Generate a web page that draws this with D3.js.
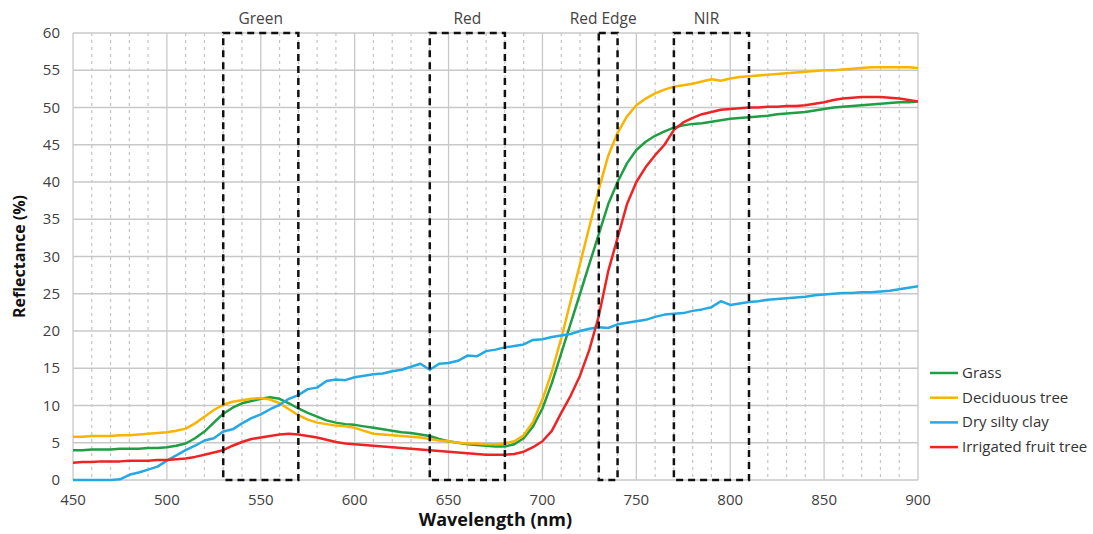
<!doctype html>
<html>
<head>
<meta charset="utf-8">
<title>Reflectance spectra</title>
<script src="https://d3js.org/d3.v7.min.js"></script>
<style>
body { margin: 0; background: #fff; font-family: 'Open Sans', sans-serif; }
.tick-label { font-size: 15px; fill: #404040; }
</style>
</head>
<body>
<div id="chart"></div>
<script>

// wavelength (nm), one value every 5 nm
var wavelengths = [450,455,460,465,470,475,480,485,490,495,500,505,510,515,520,525,530,535,540,545,550,555,560,565,570,575,580,585,590,595,600,605,610,615,620,625,630,635,640,645,650,655,660,665,670,675,680,685,690,695,700,705,710,715,720,725,730,735,740,745,750,755,760,765,770,775,780,785,790,795,800,805,810,815,820,825,830,835,840,845,850,855,860,865,870,875,880,885,890,895,900];

var grass = [4.0,4.0,4.1,4.1,4.1,4.2,4.2,4.2,4.3,4.3,4.4,4.6,4.9,5.6,6.5,7.7,8.9,9.7,10.3,10.6,10.9,11.1,10.9,10.3,9.6,9.0,8.5,8.0,7.7,7.5,7.4,7.2,7.0,6.8,6.6,6.4,6.3,6.1,5.9,5.5,5.2,5.0,4.8,4.7,4.6,4.5,4.5,4.8,5.6,7.2,9.6,13.0,17.0,21.0,25.0,29.0,33.0,37.0,40.0,42.5,44.3,45.4,46.2,46.8,47.3,47.6,47.8,47.9,48.1,48.3,48.5,48.6,48.7,48.8,48.9,49.1,49.2,49.3,49.4,49.6,49.8,50.0,50.1,50.2,50.3,50.4,50.5,50.6,50.7,50.7,50.8];

var deciduous = [5.8,5.8,5.9,5.9,5.9,6.0,6.0,6.1,6.2,6.3,6.4,6.6,6.9,7.6,8.5,9.4,10.1,10.5,10.7,10.9,11.0,10.8,10.3,9.5,8.7,8.1,7.7,7.5,7.3,7.2,7.0,6.6,6.2,6.1,6.0,5.9,5.8,5.7,5.5,5.3,5.2,5.0,4.9,4.9,4.8,4.8,4.9,5.2,6.0,7.8,10.8,14.5,19.0,24.0,29.0,34.0,39.0,43.5,46.6,48.8,50.3,51.2,51.9,52.4,52.8,53.0,53.2,53.5,53.8,53.6,53.9,54.1,54.2,54.3,54.4,54.5,54.6,54.7,54.8,54.9,55.0,55.0,55.1,55.2,55.3,55.4,55.4,55.4,55.4,55.4,55.3];

var silty = [0,0,0,0,0,0.1,0.7,1.0,1.4,1.8,2.6,3.3,4.0,4.6,5.3,5.6,6.5,6.8,7.6,8.3,8.8,9.5,10.1,10.9,11.4,12.2,12.4,13.3,13.5,13.4,13.8,14.0,14.2,14.3,14.6,14.8,15.2,15.6,14.8,15.6,15.7,16.0,16.7,16.6,17.3,17.5,17.8,18.0,18.2,18.8,18.9,19.2,19.4,19.6,20.0,20.3,20.5,20.4,20.9,21.1,21.3,21.5,21.9,22.2,22.3,22.4,22.7,22.9,23.2,24.0,23.5,23.7,23.9,24.0,24.2,24.3,24.4,24.5,24.6,24.8,24.9,25.0,25.1,25.1,25.2,25.2,25.3,25.4,25.6,25.8,26.0];

var fruitTree = [2.3,2.4,2.4,2.5,2.5,2.5,2.6,2.6,2.6,2.7,2.7,2.8,2.9,3.1,3.4,3.7,4.0,4.6,5.1,5.5,5.7,5.9,6.1,6.2,6.1,5.9,5.7,5.4,5.1,4.9,4.8,4.7,4.6,4.5,4.4,4.3,4.2,4.1,4.0,3.9,3.8,3.7,3.6,3.5,3.4,3.4,3.4,3.5,3.8,4.4,5.2,6.6,9.0,11.3,14.0,17.5,22.0,28.0,32.5,37.0,40.0,42.0,43.6,45.0,47.0,48.0,48.6,49.1,49.4,49.7,49.8,49.9,50.0,50.0,50.1,50.1,50.2,50.2,50.3,50.5,50.7,51.0,51.2,51.3,51.4,51.4,51.4,51.3,51.2,51.0,50.8];

var seriesNames = ["Grass", "Deciduous tree", "Dry silty clay", "Irrigated fruit tree"];
var seriesColors = ["#1f9e43", "#f9b400", "#25a8e3", "#ee2424"];
var seriesValues = [grass, deciduous, silty, fruitTree];

// spectral bands (dashed boxes)
var bandNames = ["Green", "Red", "Red Edge", "NIR"];
var bandStart = [530, 640, 730, 770];
var bandEnd   = [570, 680, 740, 810];

var xTicks = [450,500,550,600,650,700,750,800,850,900];
var yTicks = [0,5,10,15,20,25,30,35,40,45,50,55,60];

var width = 1093, height = 534;

var svg = d3.select("#chart").append("svg")
	.attr("width", width)
	.attr("height", height);

var x = d3.scaleLinear().domain([450, 900]).range([73, 918]);
var y = d3.scaleLinear().domain([0, 60]).range([480, 33]);

// minor dotted verticals every 10 nm
var minor = d3.range(460, 900, 10).filter(function(d){ return d % 50 != 0; });
svg.append("g").selectAll("line")
	.data(minor).enter().append("line")
	.attr("x1", function(d){ return x(d); })
	.attr("x2", function(d){ return x(d); })
	.attr("y1", y(60)).attr("y2", y(0))
	.attr("stroke", "#c4c4c4")
	.attr("stroke-width", 1.2)
	.attr("stroke-dasharray", "3,4");

// major grid
svg.append("g").selectAll("line")
	.data(xTicks).enter().append("line")
	.attr("x1", function(d){ return x(d); })
	.attr("x2", function(d){ return x(d); })
	.attr("y1", y(60)).attr("y2", y(0))
	.attr("stroke", "#c8c8c8")
	.attr("stroke-width", 1.3);

svg.append("g").selectAll("line")
	.data(yTicks).enter().append("line")
	.attr("x1", x(450)).attr("x2", x(900))
	.attr("y1", function(d){ return y(d); })
	.attr("y2", function(d){ return y(d); })
	.attr("stroke", "#c8c8c8")
	.attr("stroke-width", 1.3);

// tick labels
svg.append("g").selectAll("text")
	.data(yTicks).enter().append("text")
	.attr("class", "tick-label")
	.attr("x", 60)
	.attr("y", function(d){ return y(d) + 5; })
	.attr("text-anchor", "end")
	.text(function(d){ return d; });

svg.append("g").selectAll("text")
	.data(xTicks).enter().append("text")
	.attr("class", "tick-label")
	.attr("x", function(d){ return x(d); })
	.attr("y", 505)
	.attr("text-anchor", "middle")
	.text(function(d){ return d; });

// axis titles
svg.append("text")
	.attr("transform", "translate(25," + ((y(0) + y(60)) / 2) + ") rotate(-90)")
	.attr("text-anchor", "middle")
	.style("font-size", "16px")
	.style("font-weight", "bold")
	.attr("fill", "#111")
	.text("Reflectance (%)");

svg.append("text")
	.attr("x", (x(450) + x(900)) / 2)
	.attr("y", 526)
	.attr("text-anchor", "middle")
	.style("font-size", "18px")
	.style("font-weight", "bold")
	.attr("fill", "#111")
	.text("Wavelength (nm)");

// spectra
var line = d3.line()
	.x(function(d, i){ return x(wavelengths[i]); })
	.y(function(d){ return y(d); });

svg.append("g").selectAll("path")
	.data(seriesValues).enter().append("path")
	.attr("d", function(d){ return line(d); })
	.attr("fill", "none")
	.attr("stroke", function(d, i){ return seriesColors[i]; })
	.attr("stroke-width", 2.5)
	.attr("stroke-linejoin", "round");

// band boxes
var bands = bandNames.map(function(n, i){ return {name: n, a: bandStart[i], b: bandEnd[i]}; });

svg.append("g").selectAll("rect")
	.data(bands).enter().append("rect")
	.attr("x", function(d){ return x(d.a); })
	.attr("y", y(60))
	.attr("width", function(d){ return x(d.b) - x(d.a); })
	.attr("height", y(0) - y(60))
	.attr("fill", "none")
	.attr("stroke", "#111")
	.attr("stroke-width", 2.5)
	.attr("stroke-dasharray", "7,5");

svg.append("g").selectAll("text")
	.data(bands).enter().append("text")
	.attr("x", function(d){ return (x(d.a) + x(d.b)) / 2 - (d.name == "Red Edge" || d.name == "NIR" ? 5 : 0); })
	.attr("y", 24)
	.attr("text-anchor", "middle")
	.style("font-size", "15.5px")
	.attr("fill", "#444")
	.text(function(d){ return d.name; });

// legend
var legend = svg.append("g").selectAll("g")
	.data(seriesNames).enter().append("g")
	.attr("transform", function(d, i){ return "translate(930," + (373 + i * 24.7) + ")"; });

legend.append("line")
	.attr("x1", 0).attr("x2", 28)
	.attr("stroke", function(d, i){ return seriesColors[i]; })
	.attr("stroke-width", 2.5);

legend.append("text")
	.attr("x", 32)
	.attr("y", 5)
	.style("font-size", "15px")
	.attr("fill", "#333")
	.text(function(d){ return d; });

</script>
</body>
</html>
